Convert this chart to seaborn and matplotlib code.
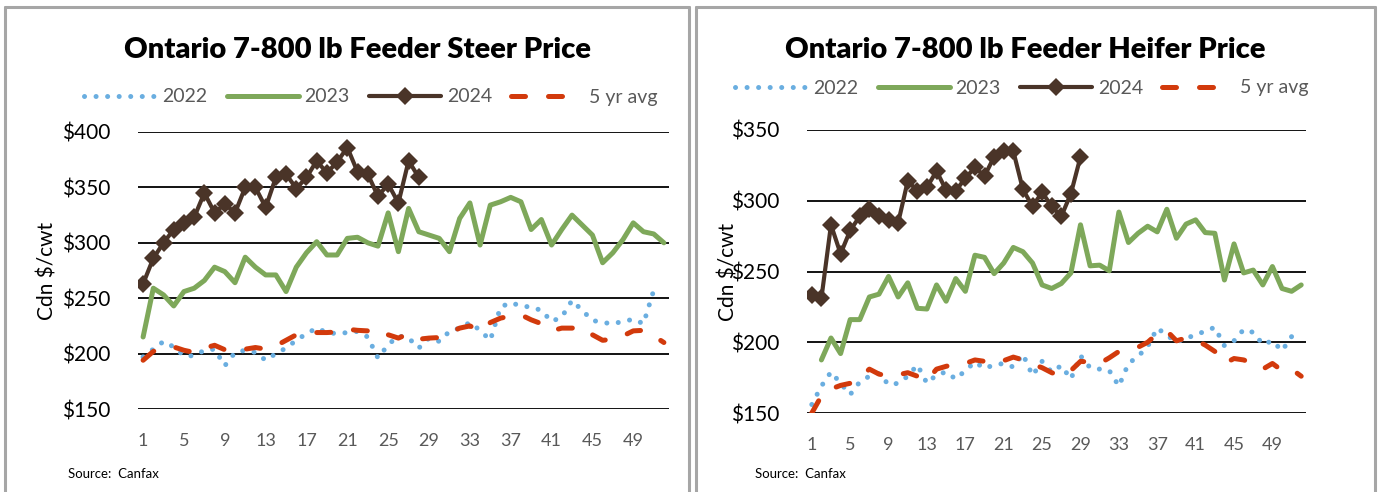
"""
Ontario feeder steer / heifer weekly prices, 2022-2024 vs 5 yr avg
two panels side by side, Excel-style
"""

import matplotlib
matplotlib.use("Agg")
import matplotlib.pyplot as plt
from matplotlib.lines import Line2D
import pandas as pd
import seaborn as sns

# ---- data (Cdn $/cwt by week) ----
weeks = list(range(1, 53))
xticks = list(range(1, 53, 4))

steer_2022 = [197, 204, 211, 206, 198, 198, 203, 204, 189, 201,
              203, 201, 194, 200, 205, 212, 218, 223, 219, 218,
              219, 220, 215, 196, 208, 216, 214, 205, 214, 211,
              220, 223, 228, 221, 212, 242, 246, 243, 242, 239,
              229, 233, 248, 239, 230, 228, 227, 229, 231, 227, 257]
steer_2023 = [215, 259, 253, 243, 256, 259, 266, 278, 274, 264,
              287, 278, 271, 271, 256, 278, 291, 301, 289, 289,
              304, 305, 300, 297, 327, 292, 331, 310, 307, 304,
              292, 322, 336, 298, 334, 337, 341, 337, 312, 321,
              298, 312, 325, 316, 307, 282, 291, 303, 318, 310, 308, 300]
steer_2024 = [263, 286, 300, 312, 318, 323, 345, 327, 335, 327,
              350, 350, 332, 359, 362, 349, 359, 374, 363, 373,
              386, 364, 362, 342, 353, 336, 374, 359]
steer_avg = [194, 202, 206, 206, 203, 201, 205, 207.5, 203.5, 202,
             204, 205.5, 204, 207, 212, 217, 218, 219, 219, 219.5,
             222, 221, 220.5, 215, 217, 214, 218, 213, 214, 214.5,
             219, 223, 225, 220.5, 228, 232, 234, 235, 230.5, 227,
             220.5, 223, 223, 224, 217, 212, 213, 216, 220.5, 221, 216, 210]

heifer_2022 = [156, 169, 179, 171, 163, 172, 176, 178, 170, 171,
               176, 184, 171, 177, 179, 174, 180, 186, 181.5, 184,
               185, 182.5, 191.5, 176.5, 186.5, 179, 183.5, 174, 190.5, 182,
               181, 180, 169, 185, 190, 197, 210, 205, 200, 203,
               205, 208, 210.5, 197.5, 201, 209, 207, 198.5, 201, 194, 204]
# 2023 heifer starts at week 2
heifer_2023 = [187.5, 203, 192, 216, 216, 232, 234, 246.5, 232, 242,
               224, 223.5, 240.5, 229, 245, 236, 261.5, 260, 248.5, 256,
               267, 264, 256, 240.5, 238, 241.5, 249, 283, 254, 254.5,
               250.5, 292, 270.5, 277, 282, 278, 294, 273.5, 283.5, 286.5,
               277.5, 277, 244, 269.5, 249, 251, 240.5, 253.5, 238, 236, 240.5]
heifer_2024 = [233.5, 231, 283, 262.5, 279, 289, 294, 289, 286.5, 284.5,
               314, 307, 309.5, 321, 307.5, 307, 316, 323.5, 317.5, 331,
               335, 335, 308, 296, 306, 296, 289, 305, 331]
heifer_avg = [150, 162, 167, 169.5, 171, 175, 181, 177.5, 176, 177,
              178.5, 176, 173, 181, 183, 184.5, 185, 187.5, 186.5, 185,
              187, 189.5, 187.5, 184.5, 182, 178.5, 176, 180, 186.5, 186,
              185, 189, 193.5, 194.5, 196.5, 200, 206, 208, 201, 203,
              201.5, 198, 193.5, 185, 188.5, 187.5, 185, 181, 185, 180, 181, 176]

series_labels = ["2022", "2023", "2024", "5 yr avg"]

# ---- style ----
sns.set_theme(style="white")
plt.rcParams["font.family"] = ["Lato", "DejaVu Sans"]

C_2022 = "#6aaee0"
C_2023 = "#7ea85a"
C_2024 = "#4a3428"
C_AVG = "#d23a0c"
GREY = "#595959"

STYLES = [
    dict(color=C_2022, lw=3.6, linestyle=(0, (0.01, 2.3)),
         dash_capstyle="round", solid_capstyle="round"),
    dict(color=C_2023, lw=3.6, solid_joinstyle="round"),
    dict(color=C_2024, lw=3.0, marker="D", markersize=9,
         markeredgewidth=0, solid_joinstyle="round"),
    dict(color=C_AVG, lw=3.6, linestyle=(0, (2.8, 4.6)),
         dash_capstyle="round"),
]


def draw_panel(ax, series, ylim, title, title_x, legend_xy, ylab_x):
    for (start, vals), lab, st in zip(series, series_labels, STYLES):
        df = pd.DataFrame({"week": weeks[start - 1:start - 1 + len(vals)],
                           "price": vals})
        sns.lineplot(data=df, x="week", y="price", ax=ax, label=lab, **st)

    ax.set_xlim(0.5, 52.5)
    ax.set_ylim(*ylim)
    ax.set_xticks(xticks)
    ax.set_yticks(range(ylim[0], ylim[1] + 1, 50))
    ax.set_yticklabels([f"${v}" for v in range(ylim[0], ylim[1] + 1, 50)])
    ax.yaxis.grid(True, color="black", lw=1.3, zorder=0)
    ax.xaxis.grid(False)
    ax.set_axisbelow(True)
    for sp in ax.spines.values():
        sp.set_visible(False)
    ax.tick_params(axis="y", length=0, labelsize=15, pad=20, labelcolor="black")
    ax.tick_params(axis="x", length=0, labelsize=13, pad=17, labelcolor=GREY)

    ax.set_xlabel("")
    ax.set_ylabel("Cdn $/cwt", fontsize=15, color="black")
    ax.yaxis.set_label_coords(ylab_x, 0.5)

    ax.legend(loc="center", bbox_to_anchor=legend_xy, bbox_transform=fig.transFigure,
              ncol=4, frameon=False, fontsize=14, labelcolor=GREY,
              handlelength=3.7, handletextpad=0.3, columnspacing=1.0)

    fig.text(title_x, 1 - 50 / 492, title, ha="center", va="center",
             fontsize=21, fontweight="heavy", color="black")


fig = plt.figure(figsize=(13.8, 4.92), dpi=100)
ax1 = fig.add_axes([138 / 1380, 1 - 409 / 492, 531 / 1380, 277 / 492])
ax2 = fig.add_axes([807 / 1380, 1 - 413 / 492, 499 / 1380, 283 / 492])

draw_panel(ax1, [(1, steer_2022), (1, steer_2023), (1, steer_2024), (1, steer_avg)],
           (150, 400), "Ontario 7-800 lb Feeder Steer Price", 357 / 1380,
           (371 / 1380, 1 - 97 / 492), -0.1525)
draw_panel(ax2, [(1, heifer_2022), (2, heifer_2023), (1, heifer_2024), (1, heifer_avg)],
           (150, 350), "Ontario 7-800 lb Feeder Heifer Price", 1025 / 1380,
           (1022 / 1380, 1 - 88 / 492), -0.138)

for x in (68, 755):
    fig.text(x / 1380, 1 - 474 / 492, "Source:  Canfax", fontsize=9.5,
             ha="left", va="center", color="black")

# panel frames
BORDER = "#a6a6a6"
for x0, x1 in ((5, 689), (696, 1375)):
    fig.add_artist(Line2D([x0 / 1380, x1 / 1380], [1 - 7 / 492] * 2,
                          color=BORDER, lw=2.2, transform=fig.transFigure))
    for x in (x0, x1):
        fig.add_artist(Line2D([x / 1380] * 2, [0, 1 - 7 / 492],
                              color=BORDER, lw=2.2, transform=fig.transFigure))

fig.savefig("out.png", dpi=100)
plt.close(fig)
